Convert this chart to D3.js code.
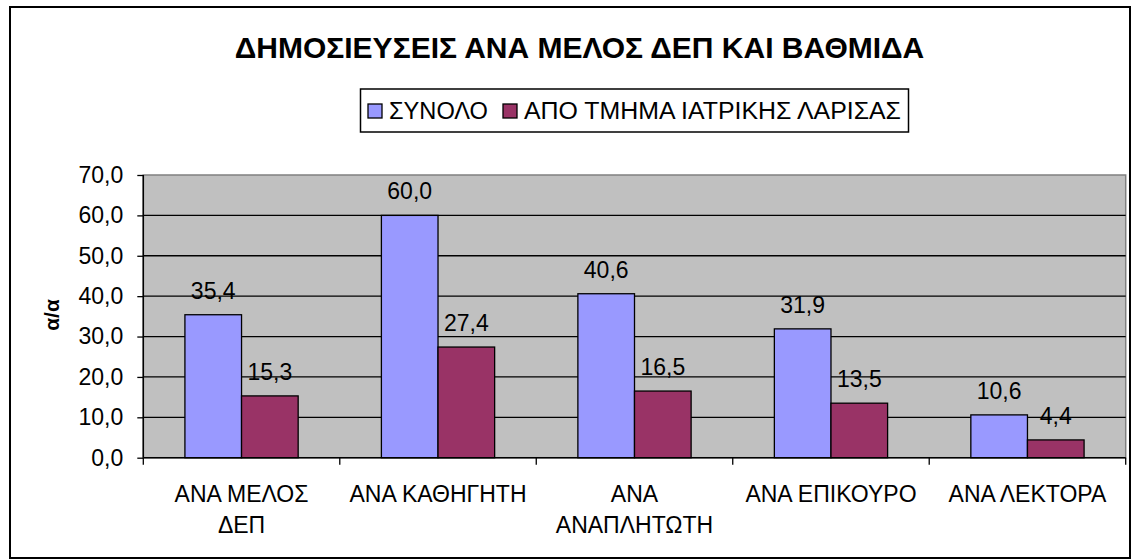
<!DOCTYPE html>
<html>
<head>
<meta charset="utf-8">
<script src="https://cdn.jsdelivr.net/npm/d3@7"></script>
<style>
  html, body { margin: 0; padding: 0; background: #fff; }
  svg { display: block; }
  text { font-family: "Liberation Sans", Arial, sans-serif; fill: #000; }
</style>
</head>
<body>
<svg id="chart" width="1131" height="559"></svg>
<script>
// ---- data ----
const title = "ΔΗΜΟΣΙΕΥΣΕΙΣ ΑΝΑ ΜΕΛΟΣ ΔΕΠ ΚΑΙ ΒΑΘΜΙΔΑ";
const categories = ["ΑΝΑ ΜΕΛΟΣ ΔΕΠ", "ΑΝΑ ΚΑΘΗΓΗΤΗ", "ΑΝΑ ΑΝΑΠΛΗΤΩΤΗ", "ΑΝΑ ΕΠΙΚΟΥΡΟ", "ΑΝΑ ΛΕΚΤΟΡΑ"];
const categoryLines = [["ΑΝΑ ΜΕΛΟΣ", "ΔΕΠ"], ["ΑΝΑ ΚΑΘΗΓΗΤΗ"], ["ΑΝΑ", "ΑΝΑΠΛΗΤΩΤΗ"], ["ΑΝΑ ΕΠΙΚΟΥΡΟ"], ["ΑΝΑ ΛΕΚΤΟΡΑ"]];
const seriesNames = ["ΣΥΝΟΛΟ", "ΑΠΟ ΤΜΗΜΑ ΙΑΤΡΙΚΗΣ ΛΑΡΙΣΑΣ"];
const totalValues = [35.4, 60.0, 40.6, 31.9, 10.6];
const larisaValues = [15.3, 27.4, 16.5, 13.5, 4.4];
const yTicks = [0, 10, 20, 30, 40, 50, 60, 70];
const yLabel = "α/α";
const seriesColors = ["#9999FF", "#993366"];

// ---- layout ----
const svg = d3.select("#chart");
const plot = { left: 143.3, right: 1125.7, top: 175, bottom: 457.7 };
const fmt = v => v.toFixed(1).replace(".", ",");
const FS = 23;

// outer frame
svg.append("rect")
  .attr("x", 10).attr("y", 7).attr("width", 1120).attr("height", 551)
  .attr("fill", "#fff").attr("stroke", "#000").attr("stroke-width", 2);

const x = d3.scaleBand().domain(categories).range([plot.left, plot.right]).paddingInner(0).paddingOuter(0);
const barGap = 1.47; // gap relative to bar width
const barW = x.bandwidth() / (2 + barGap);
const xs = d3.scaleBand().domain(seriesNames).range([0, 2 * barW]);
const y = d3.scaleLinear().domain([0, 70]).range([plot.bottom, plot.top]);

// plot background
svg.append("rect")
  .attr("x", plot.left).attr("y", plot.top)
  .attr("width", plot.right - plot.left).attr("height", plot.bottom - plot.top)
  .attr("fill", "#C0C0C0").attr("stroke", "#808080").attr("stroke-width", 1.5);

// gridlines
svg.append("g").selectAll("line").data(yTicks.filter(t => t > 0 && t < 70)).join("line")
  .attr("x1", plot.left).attr("x2", plot.right)
  .attr("y1", d => y(d)).attr("y2", d => y(d))
  .attr("stroke", "#000").attr("stroke-width", 1.3);

// bars
const data = categories.map((c, i) => ({ c, vals: [totalValues[i], larisaValues[i]] }));
const groups = svg.append("g").selectAll("g").data(data).join("g")
  .attr("transform", d => `translate(${x(d.c) + (x.bandwidth() - 2 * barW) / 2},0)`);
groups.selectAll("rect").data(d => d.vals.map((v, k) => ({ v, k }))).join("rect")
  .attr("x", d => xs(seriesNames[d.k]))
  .attr("y", d => y(d.v))
  .attr("width", xs.bandwidth())
  .attr("height", d => y(0) - y(d.v))
  .attr("fill", d => seriesColors[d.k])
  .attr("stroke", "#000").attr("stroke-width", 1.3);
groups.selectAll("text").data(d => d.vals.map((v, k) => ({ v, k }))).join("text")
  .attr("x", d => xs(seriesNames[d.k]) + xs.bandwidth() / 2)
  .attr("y", d => y(d.v) - 16)
  .attr("text-anchor", "middle")
  .attr("font-size", FS)
  .text(d => fmt(d.v));

// y axis
const yAxis = svg.append("g").attr("transform", `translate(${plot.left},0)`)
  .call(d3.axisLeft(y).tickValues(yTicks).tickSize(6).tickPadding(14).tickFormat(fmt));
yAxis.select(".domain").attr("stroke", "#000").attr("stroke-width", 1.5).attr("d", `M0,${plot.top}V${plot.bottom}`);
yAxis.selectAll(".tick line").attr("stroke", "#000").attr("stroke-width", 1.3);
yAxis.selectAll(".tick text").attr("font-size", FS).attr("font-family", "Liberation Sans, Arial, sans-serif").attr("fill", "#000");

// x axis
const boundaries = categories.map(c => x(c)).concat([plot.right]);
svg.append("line").attr("x1", plot.left).attr("x2", plot.right)
  .attr("y1", plot.bottom).attr("y2", plot.bottom).attr("stroke", "#000").attr("stroke-width", 1.5);
svg.append("g").selectAll("line").data(boundaries).join("line")
  .attr("x1", d => d).attr("x2", d => d)
  .attr("y1", plot.bottom).attr("y2", plot.bottom + 7)
  .attr("stroke", "#000").attr("stroke-width", 1.3);

// category labels
svg.append("g").selectAll("text").data(categories).join("text")
  .attr("x", d => x(d) + x.bandwidth() / 2)
  .attr("y", 502)
  .attr("text-anchor", "middle")
  .attr("font-size", FS)
  .each(function (d, i) {
    d3.select(this).selectAll("tspan").data(categoryLines[i]).join("tspan")
      .attr("x", x(d) + x.bandwidth() / 2)
      .attr("dy", (l, j) => j === 0 ? 0 : 30.5)
      .text(l => l);
  });

// y label
svg.append("text")
  .attr("transform", "translate(59,315) rotate(-90)")
  .attr("text-anchor", "middle")
  .attr("font-size", 21).attr("font-weight", "bold")
  .text(yLabel);

// title
svg.append("text")
  .attr("x", 579.5).attr("y", 58)
  .attr("text-anchor", "middle")
  .attr("font-size", 30).attr("font-weight", "bold")
  .text(title);

// legend
const lg = svg.append("g");
lg.append("rect").attr("x", 360.5).attr("y", 89).attr("width", 548).attr("height", 43)
  .attr("fill", "#fff").attr("stroke", "#000").attr("stroke-width", 1.5);
const legendX = [368, 503];
const legendTextW = [99, 377];
seriesNames.forEach((s, i) => {
  lg.append("rect").attr("x", legendX[i]).attr("y", 104).attr("width", 14).attr("height", 14)
    .attr("fill", seriesColors[i]).attr("stroke", "#000").attr("stroke-width", 1.3);
  lg.append("text").attr("x", legendX[i] + 21).attr("y", 119)
    .attr("font-size", 23.5)
    .attr("textLength", legendTextW[i]).attr("lengthAdjust", "spacingAndGlyphs")
    .text(s);
});
</script>
</body>
</html>
